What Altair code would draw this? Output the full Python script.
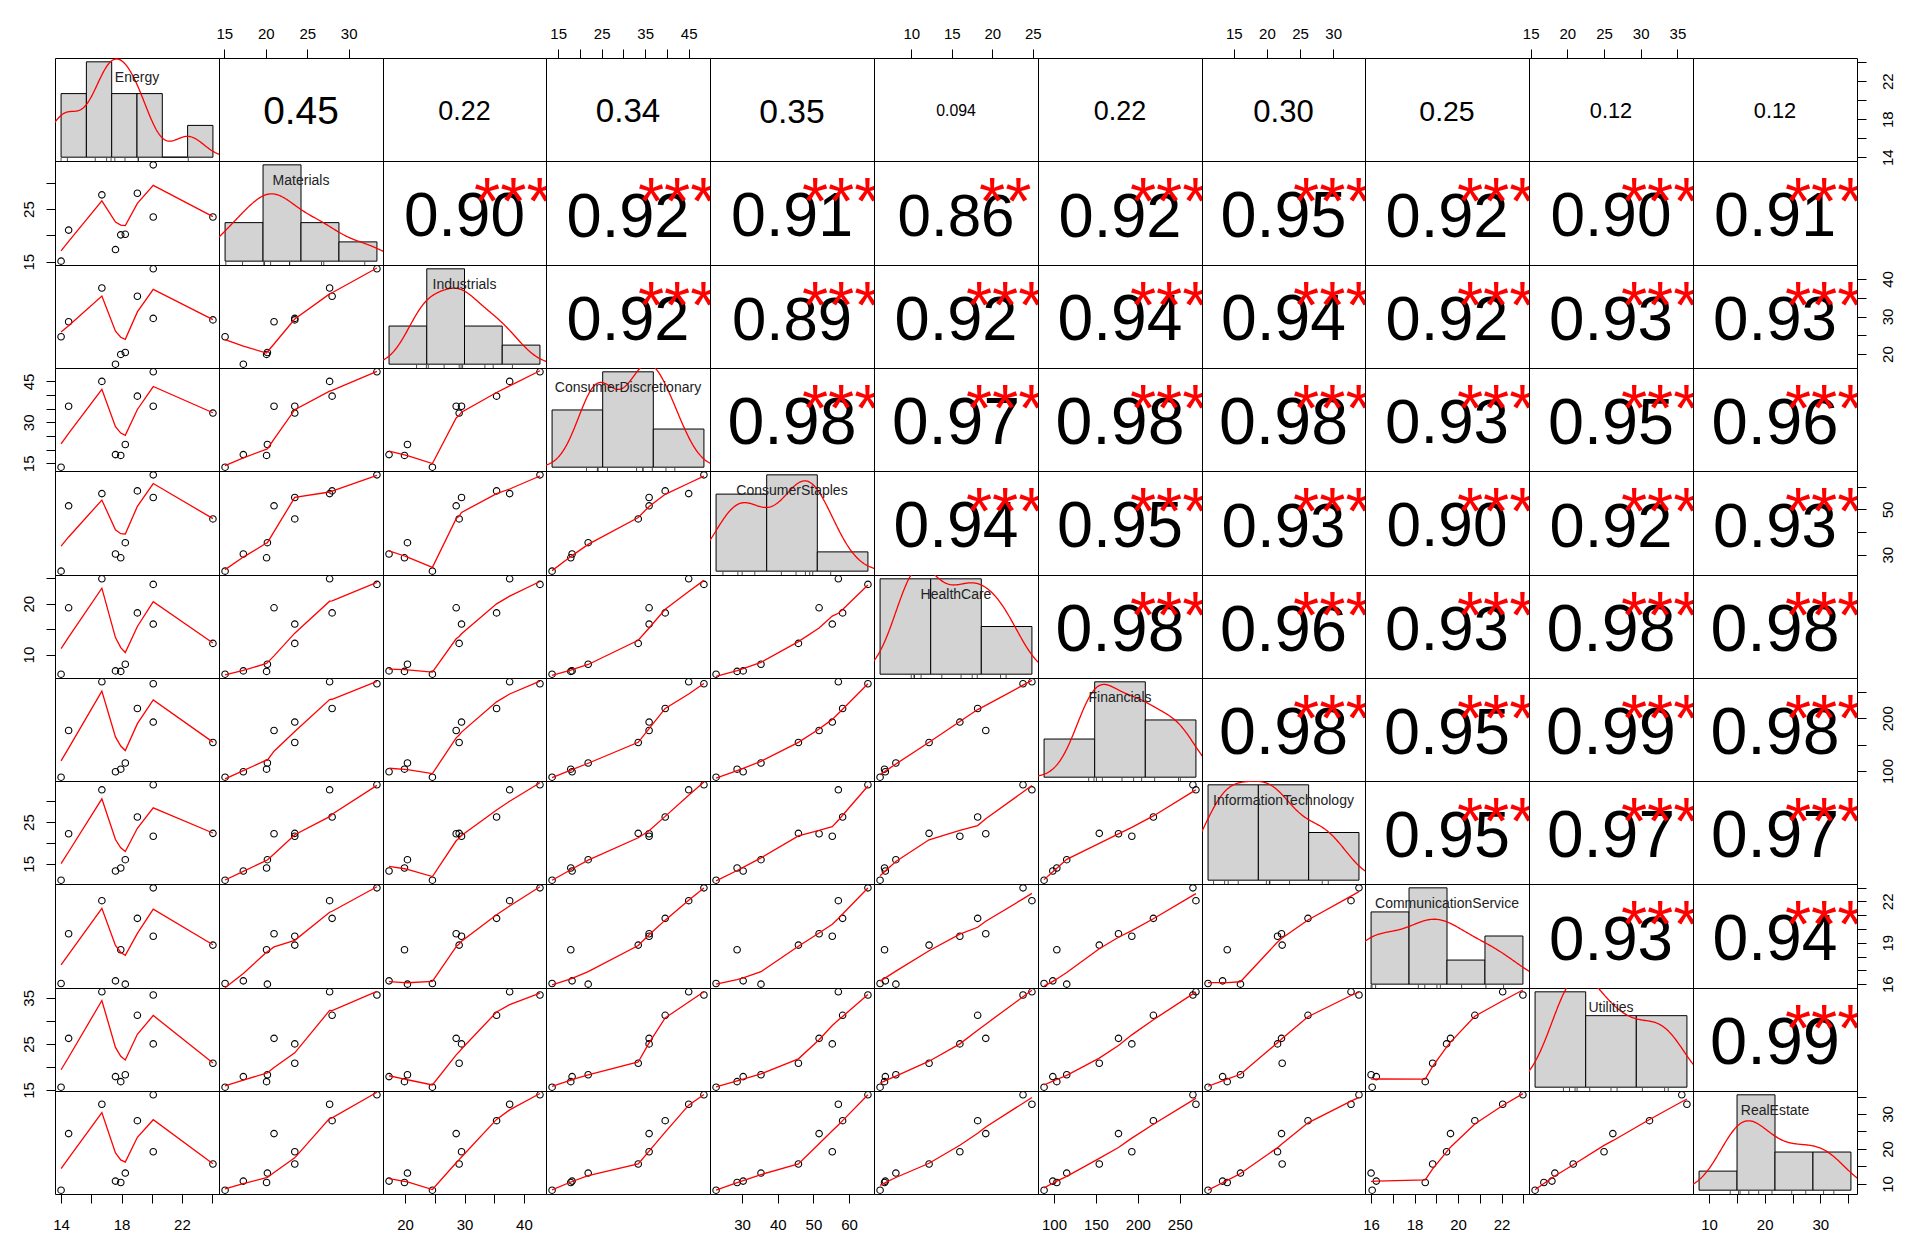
import json
import numpy as np
import pandas as pd
import altair as alt

# ---------------- data ----------------
NAMES = ["Energy", "Materials", "Industrials", "ConsumerDiscretionary",
         "ConsumerStaples", "HealthCare", "Financials", "InformationTechnology",
         "CommunicationService", "Utilities", "RealEstate"]

energy = [14.0, 14.5, 16.7, 17.6, 17.95, 18.25, 19.05, 20.1, 20.1, 24.05]
materials = [15.1, 21.0, 27.7, 17.3, 20.1, 20.2, 28.0, 33.4, 23.5, 23.5]
industrials = [24.6, 28.6, 37.6, 17.3, 19.9, 20.4, 35.4, 42.7, 29.5, 29.1]
cons_disc = [13.6, 35.9, 45.0, 18.2, 17.9, 21.9, 39.6, 48.5, 35.9, 33.4]
cons_staples = [22.7, 51.6, 57.0, 30.3, 28.6, 35.3, 58.2, 65.3, 55.3, 45.8]
health_care = [6.15, 19.2, 24.9, 6.8, 6.7, 8.1, 18.2, 23.8, 16.0, 12.2]
financials = [88.2, 176.9, 269.2, 98.6, 103.4, 115.2, 218.5, 265.6, 192.8, 154.0]
info_tech = [11.1, 22.2, 32.7, 13.3, 14.0, 16.0, 26.2, 33.9, 21.6, 22.3]
comm_service = [16.05, 19.65, 22.05, 16.24, 18.49, 16.0, 20.77, 22.98, 19.47, 18.83]
utilities = [15.6, 26.2, 36.3, 17.9, 16.8, 18.3, 31.2, 35.6, 25.0, 20.8]
real_estate = [8.2, 24.4, 32.8, 10.8, 10.4, 13.1, 28.1, 35.5, 19.2, 15.7]

VALUES = [energy, materials, industrials, cons_disc, cons_staples, health_care,
          financials, info_tech, comm_service, utilities, real_estate]

# correlation labels of the upper triangle, row by row
COR_TEXT = [
    ["0.45", "0.22", "0.34", "0.35", "0.094", "0.22", "0.30", "0.25", "0.12", "0.12"],
    ["0.90", "0.92", "0.91", "0.86", "0.92", "0.95", "0.92", "0.90", "0.91"],
    ["0.92", "0.89", "0.92", "0.94", "0.94", "0.92", "0.93", "0.93"],
    ["0.98", "0.97", "0.98", "0.98", "0.93", "0.95", "0.96"],
    ["0.94", "0.95", "0.93", "0.90", "0.92", "0.93"],
    ["0.98", "0.96", "0.93", "0.98", "0.98"],
    ["0.98", "0.95", "0.99", "0.98"],
    ["0.95", "0.97", "0.97"],
    ["0.93", "0.94"],
    ["0.99"],
]
STARS = [
    [""] * 10,
    ["***", "***", "***", "**", "***", "***", "***", "***", "***"],
    ["***"] * 8,
    ["***"] * 7,
    ["***"] * 6,
    ["***"] * 5,
    ["***"] * 4,
    ["***"] * 3,
    ["***"] * 2,
    ["***"],
]

# histogram breaks and counts of the diagonal panels
HIST_BREAKS = {
    "Energy": [14, 16, 18, 20, 22, 24, 26],
    "Materials": [15, 20, 25, 30, 35],
    "Industrials": [10, 20, 30, 40, 50],
    "ConsumerDiscretionary": [0, 20, 40, 60],
    "ConsumerStaples": [20, 40, 60, 80],
    "HealthCare": [0, 10, 20, 30],
    "Financials": [0, 100, 200, 300],
    "InformationTechnology": [10, 20, 30, 40],
    "CommunicationService": [16, 18, 20, 22, 24],
    "Utilities": [10, 20, 30, 40],
    "RealEstate": [0, 10, 20, 30, 40],
}
HIST_COUNTS = {
    "Energy": [2, 3, 2, 2, 0, 1],
    "Materials": [2, 5, 2, 1],
    "Industrials": [2, 5, 2, 1],
    "ConsumerDiscretionary": [3, 5, 2],
    "ConsumerStaples": [4, 5, 1],
    "HealthCare": [4, 4, 2],
    "Financials": [2, 5, 3],
    "InformationTechnology": [4, 4, 2],
    "CommunicationService": [3, 4, 1, 2],
    "Utilities": [4, 3, 3],
    "RealEstate": [1, 5, 2, 2],
}

# tick values and labelled ticks: x axes (columns) and y axes (rows)
X_TICKS = {
    "Energy": ([14, 16, 18, 20, 22, 24], [14, 18, 22]),
    "Materials": ([15, 20, 25, 30], [15, 20, 25, 30]),
    "Industrials": ([20, 25, 30, 35, 40], [20, 30, 40]),
    "ConsumerDiscretionary": ([15, 20, 25, 30, 35, 40, 45], [15, 25, 35, 45]),
    "ConsumerStaples": ([30, 40, 50, 60], [30, 40, 50, 60]),
    "HealthCare": ([10, 15, 20, 25], [10, 15, 20, 25]),
    "Financials": ([100, 150, 200, 250], [100, 150, 200, 250]),
    "InformationTechnology": ([15, 20, 25, 30], [15, 20, 25, 30]),
    "CommunicationService": ([16, 17, 18, 19, 20, 21, 22, 23], [16, 18, 20, 22]),
    "Utilities": ([15, 20, 25, 30, 35], [15, 20, 25, 30, 35]),
    "RealEstate": ([10, 15, 20, 25, 30, 35], [10, 20, 30]),
}
Y_TICKS = {
    "Energy": ([14, 16, 18, 20, 22, 24], [14, 18, 22]),
    "Materials": ([15, 20, 25, 30], [15, 25]),
    "Industrials": ([20, 25, 30, 35, 40], [20, 30, 40]),
    "ConsumerDiscretionary": ([15, 20, 25, 30, 35, 40, 45], [15, 30, 45]),
    "ConsumerStaples": ([30, 40, 50, 60], [30, 50]),
    "HealthCare": ([10, 15, 20, 25], [10, 20]),
    "Financials": ([100, 150, 200, 250], [100, 200]),
    "InformationTechnology": ([15, 20, 25, 30], [15, 25]),
    "CommunicationService": ([16, 17, 18, 19, 20, 21, 22, 23], [16, 19, 22]),
    "Utilities": ([15, 20, 25, 30, 35], [15, 25, 35]),
    "RealEstate": ([10, 15, 20, 25, 30, 35], [10, 20, 30]),
}

# ---------------- styling ----------------
N = len(NAMES)
PANEL_W, PANEL_H = 163.8, 103.3
# integer panel sizes whose running sums follow the fractional grid
COL_W = [int((k + 1) * PANEL_W + 0.5) - int(k * PANEL_W + 0.5) for k in range(N)]
ROW_H = [int((k + 1) * PANEL_H + 0.5) - int(k * PANEL_H + 0.5) for k in range(N)]
FONT = "Liberation Sans"
RED = "#FF0000"
GRAY = "#D3D3D3"


def padded(lo, hi, f=0.04):
    r = hi - lo
    return [lo - f * r, hi + f * r]


DOM = [padded(min(v), max(v)) for v in VALUES]


def em_width(s):
    w = {".": 0.278, "-": 0.333, "*": 0.389}
    return sum(w.get(c, 0.556) for c in s)


def label_expr(labels):
    return "indexof(%s, datum.value) >= 0 ? format(datum.value, 'd') : ''" % json.dumps(labels)


def make_axis(kind, var_idx, orient):
    ticks, labels = (X_TICKS if kind == "x" else Y_TICKS)[NAMES[var_idx]]
    kw = dict(orient=orient, values=ticks, labelExpr=label_expr(labels), title=None,
              grid=False, domain=False, ticks=True, tickSize=9, tickColor="black",
              tickWidth=1, labelFont=FONT, labelFontSize=15, labelColor="black",
              labelOverlap=False, labelFlush=False, labelBound=False)
    if orient == "top":
        kw.update(labelAngle=0, labelAlign="center", labelBaseline="alphabetic", labelPadding=10.4)
    elif orient == "bottom":
        kw.update(labelAngle=0, labelAlign="center", labelBaseline="top", labelPadding=14)
    elif orient == "left":
        kw.update(labelAngle=270, labelAlign="center", labelBaseline="alphabetic", labelPadding=12.3)
    else:
        kw.update(labelAngle=270, labelAlign="center", labelBaseline="top", labelPadding=14.2)
    return alt.Axis(**kw)


def lin(domain):
    return alt.Scale(domain=domain, nice=False, zero=False)


def axis_layer(i, j):
    xo = yo = None
    if i == 0 and j % 2 == 1:
        xo = "top"
    if i == N - 1 and j % 2 == 0:
        xo = "bottom"
    if j == 0 and i % 2 == 1:
        yo = "left"
    if j == N - 1 and i % 2 == 0:
        yo = "right"
    if xo is None and yo is None:
        return None
    df = pd.DataFrame({"ax": VALUES[j], "ay": VALUES[i]})
    return alt.Chart(df).mark_point(opacity=0).encode(
        x=alt.X("ax:Q", scale=lin(DOM[j]), axis=make_axis("x", j, xo) if xo else None),
        y=alt.Y("ay:Q", scale=lin(DOM[i]), axis=make_axis("y", i, yo) if yo else None),
    )


USR = alt.Scale(domain=[0, 1], nice=False, zero=False)


def scatter_layers(i, j):
    df = pd.DataFrame({"x": VALUES[j], "y": VALUES[i]})
    base = alt.Chart(df)
    enc = dict(x=alt.X("x:Q", scale=lin(DOM[j]), axis=None),
               y=alt.Y("y:Q", scale=lin(DOM[i]), axis=None))
    pts = base.mark_point(shape="circle", filled=False, color="black", size=42,
                          strokeWidth=1.1, opacity=1, clip=True).encode(**enc)
    line = base.transform_loess("x", "y", bandwidth=2 / 3).mark_line(
        color=RED, strokeWidth=1.3, clip=True).encode(**enc)
    return [pts, line]


def text_layers(i, j):
    txt = COR_TEXT[i][j - i - 1]
    stars = STARS[i][j - i - 1]
    r = abs(float(txt))
    cex = 0.8 * PANEL_W / em_width(txt)
    fs = cex * (r + 0.3) / 1.3
    out = []
    df = pd.DataFrame({"px": [0.5], "py": [0.5], "t": [txt]})
    out.append(alt.Chart(df).mark_text(font=FONT, fontSize=fs, color="black", align="center",
                                       baseline="alphabetic", dy=0.358 * fs + 1).encode(
        x=alt.X("px:Q", scale=USR, axis=None), y=alt.Y("py:Q", scale=USR, axis=None), text="t:N"))
    if stars:
        sdf = pd.DataFrame({"px": [0.8], "py": [0.8], "t": [stars]})
        out.append(alt.Chart(sdf).mark_text(font=FONT, fontSize=cex, color=RED, align="center",
                                            baseline="alphabetic", dy=0.59 * cex + 2.6,
                                            clip=True).encode(
            x=alt.X("px:Q", scale=USR, axis=None), y=alt.Y("py:Q", scale=USR, axis=None), text="t:N"))
    return out


def nrd0(x):
    x = np.asarray(x, dtype=float)
    sd = x.std(ddof=1)
    q75, q25 = np.percentile(x, [75, 25])
    lo = min(sd, (q75 - q25) / 1.34)
    if lo <= 0:
        lo = sd
    return 0.9 * lo * len(x) ** (-0.2)


def diag_layers(i, h):
    name = NAMES[i]
    vals = VALUES[i]
    br = HIST_BREAKS[name]
    ct = HIST_COUNTS[name]
    n = len(vals)
    dens = [c / (n * (br[k + 1] - br[k])) for k, c in enumerate(ct)]
    bdf = pd.DataFrame({"lo": br[:-1], "hi": br[1:], "d": dens, "zero": [0] * len(ct)})
    hx = lin(padded(br[0], br[-1]))
    hy = lin(padded(0, max(dens)))
    bars = alt.Chart(bdf).mark_rect(fill=GRAY, stroke="black", strokeWidth=1).encode(
        x=alt.X("lo:Q", scale=hx, axis=None), x2="hi:Q",
        y=alt.Y("d:Q", scale=hy, axis=None), y2="zero:Q")
    bw = nrd0(vals)
    vdf = pd.DataFrame({"v": vals})
    dline = alt.Chart(vdf).transform_density(
        "v", as_=["v", "density"], bandwidth=bw,
        extent=[min(vals) - 3 * bw, max(vals) + 3 * bw], steps=300).mark_line(
        color=RED, strokeWidth=1.3, clip=True).encode(
        x=alt.X("v:Q", scale=hx, axis=None), y=alt.Y("density:Q", scale=hy, axis=None))
    rug = alt.Chart(vdf).mark_rule(color="black", strokeWidth=0.7).encode(
        x=alt.X("v:Q", scale=hx, axis=None), y=alt.value(h), y2=alt.value(h * 0.97))
    ldf = pd.DataFrame({"px": [0.5], "py": [0.82], "t": [name]})
    lab = alt.Chart(ldf).mark_text(font=FONT, fontSize=14, color="#222222", align="center",
                                   baseline="alphabetic", dy=5).encode(
        x=alt.X("px:Q", scale=USR, axis=None), y=alt.Y("py:Q", scale=USR, axis=None), text="t:N")
    return [bars, dline, rug, lab]


panels = []
for i in range(N):
    for j in range(N):
        if i > j:
            layers = scatter_layers(i, j)
        elif i < j:
            layers = text_layers(i, j)
        else:
            layers = diag_layers(i, ROW_H[i])
        ax = axis_layer(i, j)
        if ax is not None:
            layers = [ax] + layers
        p = alt.layer(*layers).resolve_scale(x="independent", y="independent").properties(
            width=COL_W[j], height=ROW_H[i])
        panels.append(p)

chart = alt.concat(*panels, columns=N, spacing=0, bounds="flush").properties(
    padding={"left": 21, "top": 26, "right": 5, "bottom": 5},
    background="white",
).configure_view(stroke="black", strokeWidth=1)

chart.save("out.html", embed_options={"renderer": "svg", "actions": False})
